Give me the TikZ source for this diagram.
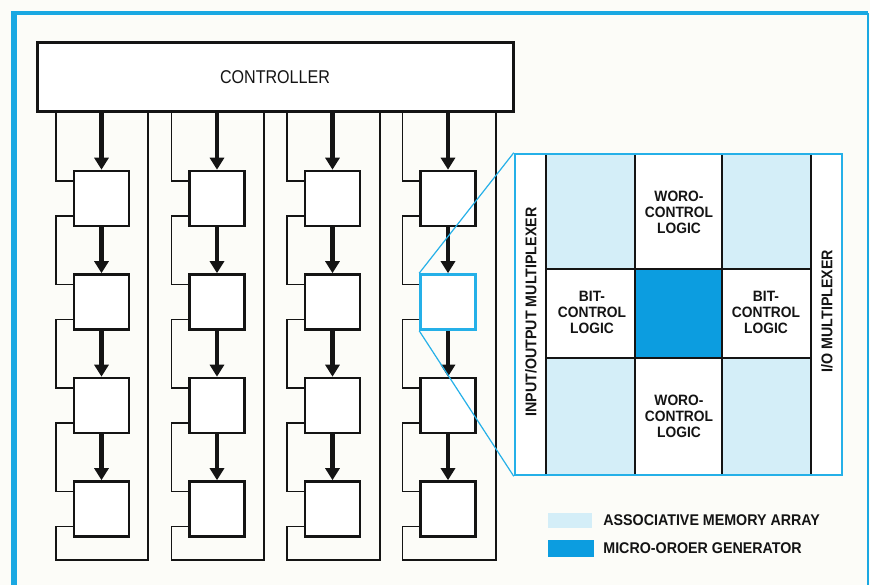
\documentclass[tikz,border=0pt]{standalone}
\usepackage{fontspec}
\setmainfont{Liberation Sans}
\newfontfamily\condfont[FakeStretch=0.92]{Liberation Sans}
\newfontfamily\ctrlfont[FakeStretch=0.87]{Liberation Sans}
\usepackage{xcolor}
\definecolor{ink}{HTML}{141414}
\definecolor{paper}{HTML}{FCFCF8}
\definecolor{frame}{HTML}{1AA8E2}
\definecolor{callout}{HTML}{25B0E8}
\definecolor{memcell}{HTML}{D4EEF8}
\definecolor{mocell}{HTML}{0C9DE0}
\usetikzlibrary{arrows.meta,positioning,calc}
\tikzset{
  x=1pt,y=-1pt,
  wire/.style={draw=ink,line width=1.3pt},
  bus/.style={-{Triangle[width=14pt,length=12pt]},line width=4.5pt,draw=ink},
  pe/.style={draw=ink,line width=2.6pt,fill=white,minimum size=55pt,inner sep=0pt},
  ctrlbox/.style={draw=ink,line width=3pt,fill=white,minimum width=476pt,minimum height=69pt,
                  font=\ctrlfont\fontsize{18.5}{20}\selectfont,text=ink},
  grid/.style={draw=ink,line width=2pt},
  zoomline/.style={draw=callout,line width=1.2pt},
  cell/.style={font=\condfont\bfseries\fontsize{15}{16}\selectfont,align=center,text=ink,inner sep=0pt},
  mux/.style={font=\condfont\bfseries\fontsize{15.5}{17}\selectfont,rotate=90,text=ink,inner sep=0pt},
  legend/.style={font=\condfont\bfseries\fontsize{15.5}{17}\selectfont,text=ink,inner sep=0pt},
  swatch/.style={inner sep=0pt},
}
\begin{document}
\begin{tikzpicture}
  \fill[paper] (0,0) rectangle (870,585);
  \useasboundingbox (0,0) rectangle (870,585);
  \draw[frame,line width=2.5pt] (868,585) -- (868,13);
  \draw[frame,line width=4pt] (14,13) -- (868,13);
  \draw[frame,line width=6pt] (14,585) -- (14,11);

  \node[ctrlbox] (ctrl) at (275,77.5) {CONTROLLER};

  % processor columns
  \foreach \col [evaluate=\col as \lx using 56+115.5*\col,
                 evaluate=\col as \rx using 148+116*\col] in {0,...,3} {
    \foreach \row in {1,...,4} {
      \ifnum\col\row=32 \def\pedraw{callout}\else\def\pedraw{ink}\fi
      \node[pe,draw=\pedraw] (pe-\col-\row) at (\lx+45.5,95+103.5*\row) {};
      \coordinate (in-\col-\row) at ([yshift=17.5pt]pe-\col-\row.west);
      \coordinate (out-\col-\row) at ([yshift=-17.5pt]pe-\col-\row.west);
    }
    \coordinate (wl-\col) at (\lx,560);
    \coordinate (wr-\col) at (\rx,560);
    \draw[wire] (wl-\col |- ctrl.south) |- (in-\col-1);
    \foreach \row [evaluate=\row as \nxt using int(\row+1)] in {1,2,3} {
      \draw[wire] (out-\col-\row) -| (wl-\col |- in-\col-\nxt) -- (in-\col-\nxt);
      \draw[bus] (pe-\col-\row.south) -- (pe-\col-\nxt.north);
    }
    \draw[wire] (out-\col-4) -| (wl-\col) -- (wr-\col) -- (wr-\col |- ctrl.south);
    \draw[bus] (pe-\col-1 |- ctrl.south) -- (pe-\col-1.north);
  }

  % enlarged cell
  \fill[white] (515,154) rectangle (842,475);
  \fill[memcell] (546,154) rectangle (635,269) (722,154) rectangle (811,269)
                 (546,358) rectangle (635,475) (722,358) rectangle (811,475);
  \fill[mocell] (635,269) rectangle (722,358);
  \foreach \gx in {546,635,722,811}
    \draw[grid] (\gx,154) -- (\gx,475);
  \draw[grid] (546,269) -- (811,269) (546,358) -- (811,358);
  \node[draw=callout,line width=2.5pt,minimum width=327pt,minimum height=321pt,inner sep=0pt] (panel) at (678.5,314.5) {};
  \draw[zoomline] (pe-3-2.north west) -- (panel.north west);
  \draw[zoomline] (pe-3-2.south west) -- (panel.south west);

  \node[cell] (wcl-top) at (679,212) {WORO-\\CONTROL\\LOGIC};
  \node[cell] (wcl-bot) at (679,416) {WORO-\\CONTROL\\LOGIC};
  \node[cell] (bcl-left) at (592,312) {BIT-\\CONTROL\\LOGIC};
  \node[cell] (bcl-right) at (766,312) {BIT-\\CONTROL\\LOGIC};
  \node[mux] (mux-in) at (531,312) {INPUT/OUTPUT MULTIPLEXER};
  \node[mux] (mux-io) at (827,311) {I/O MULTIPLEXER};

  % legend
  \node[swatch,fill=memcell,minimum width=44pt,minimum height=15pt] (sw-mem) at (570,520.5) {};
  \node[legend,right=11pt of sw-mem] (lg-mem) {ASSOCIATIVE MEMORY ARRAY};
  \node[swatch,fill=mocell,minimum width=46pt,minimum height=17pt] (sw-mo) at (571,548.5) {};
  \node[legend,right=9pt of sw-mo] (lg-mo) {MICRO-OROER GENERATOR};
\end{tikzpicture}
\end{document}
